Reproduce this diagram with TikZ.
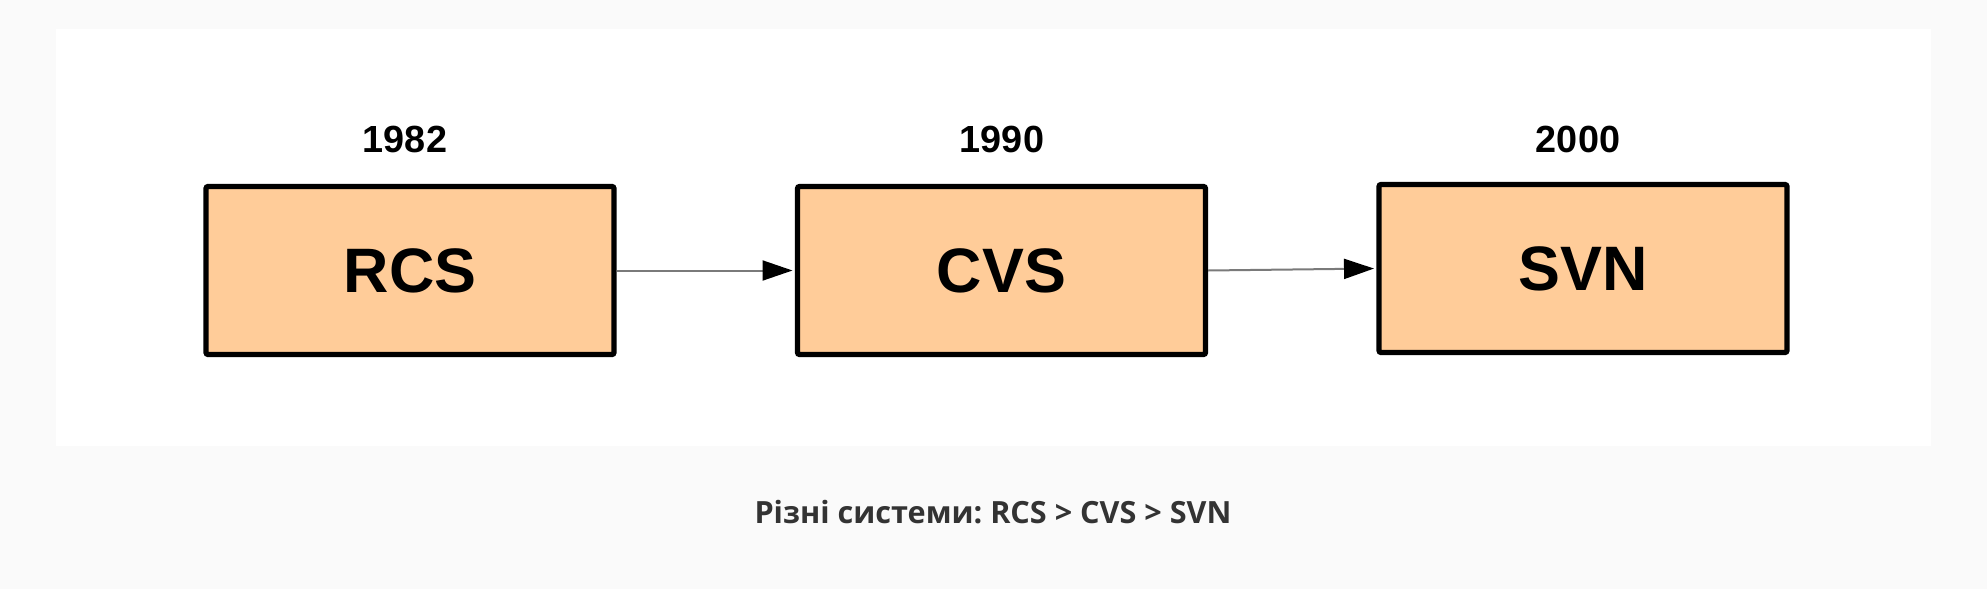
\documentclass[tikz,border=0pt]{standalone}
\usepackage{fontspec}
\setmainfont{Liberation Sans}
\newfontfamily\capfont{Open Sans Bold}
\usetikzlibrary{arrows.meta}
\definecolor{pagebg}{HTML}{FAFAFA}
\definecolor{boxfill}{HTML}{FFCC99}
\definecolor{captxt}{HTML}{333333}
\definecolor{linegray}{HTML}{7A7A7A}
\tikzset{
  sysbox/.style={draw=black, fill=boxfill, line width=2.6pt, rounded corners=1pt,
    minimum width=204pt, minimum height=84pt, inner sep=0pt,
    font=\fontsize{31.4pt}{36pt}\selectfont\bfseries},
  yearlbl/.style={anchor=base, inner sep=0pt, font=\fontsize{18.9pt}{22pt}\selectfont\bfseries},
  flow/.style={draw=linegray, line width=1pt, -{Triangle[length=15pt,width=10pt,fill=black,color=black]}, shorten >=1.2pt}
}
\begin{document}
\begin{tikzpicture}[x=0.5pt,y=-0.5pt]
\fill[pagebg] (0,0) rectangle (1987,589);
\useasboundingbox (0,0) rectangle (1987,589);
\fill[white] (56,29) rectangle (1931,446);
\node[sysbox] (rcs) at (410,270.5) {RCS};
\node[sysbox] (cvs) at (1001.5,270.5) {CVS};
\node[sysbox] (svn) at (1583,268.5) {SVN};
\node[yearlbl] (y1) at (405,152.5) {1982};
\node[yearlbl] (y2) at (1002,152.5) {1990};
\node[yearlbl] (y3) at (1578,152) {2000};
\draw[flow] (rcs.east) -- (cvs.west);
\draw[flow] (cvs.east) -- (svn.west);
\node[anchor=base, inner sep=0pt, text=captxt, font=\capfont\fontsize{15.3pt}{19pt}\selectfont\frenchspacing] (cap) at (993,523.3) {Різні системи: RCS > CVS > SVN};
\end{tikzpicture}
\end{document}
